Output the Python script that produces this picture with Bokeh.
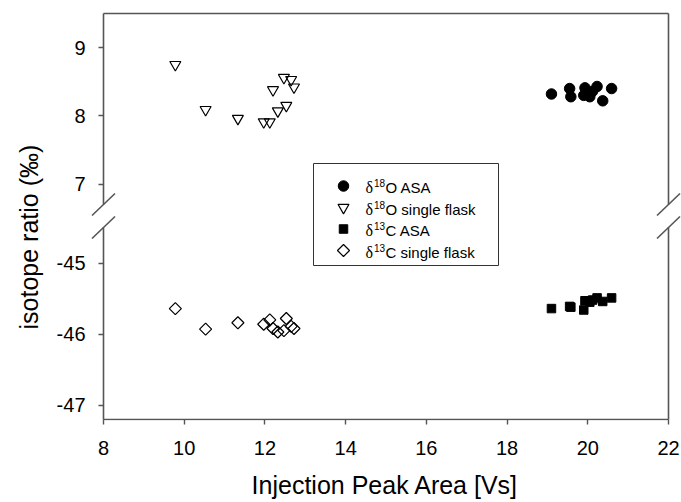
import math
from bokeh.plotting import figure
from bokeh.models import Range1d, FixedTicker, Title
from bokeh.core.properties import value
from bokeh.embed import file_html
from bokeh.resources import INLINE

# ---------------- data ----------------
flask_x = [9.78, 10.53, 11.33, 11.97, 12.12, 12.20, 12.32, 12.47, 12.53, 12.65, 12.72]
o18_flask = [8.75, 8.09, 7.96, 7.91, 7.91, 8.38, 8.07, 8.56, 8.15, 8.53, 8.42]
c13_flask = [-45.64, -45.93, -45.84, -45.86, -45.80, -45.92, -45.97, -45.95, -45.78, -45.89, -45.92]

asa_x = [19.10, 19.55, 19.58, 19.90, 19.93, 20.05, 20.12, 20.23, 20.37, 20.59]
o18_asa = [8.32, 8.40, 8.28, 8.30, 8.41, 8.28, 8.36, 8.43, 8.22, 8.40]
c13_asa = [-45.64, -45.61, -45.62, -45.66, -45.53, -45.55, -45.52, -45.49, -45.54, -45.49]

x_ticks = [8, 10, 12, 14, 16, 18, 20, 22]
upper_ticks = [7, 8, 9]
lower_ticks = [-47, -46, -45]

legend_sup = ["18", "18", "13", "13"]
legend_rest = ["O ASA", "O single flask", "C ASA", "C single flask"]
x_title = "Injection Peak Area [Vs]"
y_title = "isotope ratio (‰)"

# ---------------- layout plan (pixels) ----------------
W, H = 681, 502
BL, BR, BT, BB = 103, 668, 13, 419          # drawn box
BREAK_UP, BREAK_LO = 204, 227               # end of upper part / start of lower part
FL, FR, FT, FB = 88, 681, 8, 420            # plot frame (larger than the box)
XMIN, XMAX = 8, 22
UP_TOP, UP_BOT = 9.5, 6.7
LO_TOP, LO_BOT = -44.5, -47.2

x_ppu = (BR - BL) / (XMAX - XMIN)
lo_ppu = (BB - BREAK_LO) / (LO_TOP - LO_BOT)
up_ppu = (BREAK_UP - BT) / (UP_TOP - UP_BOT)


def xd(px):
    return XMIN + (px - BL) / x_ppu


def yd(py):          # pixel -> lower (default) range value
    return LO_TOP - (py - BREAK_LO) / lo_ppu


def yu(py):          # pixel -> upper range value
    return UP_TOP - (py - BT) / up_ppu


FONT = "Liberation Sans"
FRAME_COLOR = "#555555"

p = figure(width=W, height=H, output_backend="svg", toolbar_location=None,
           x_range=Range1d(xd(FL), xd(FR)), y_range=Range1d(yd(FB), yd(FT)),
           min_border_left=FL, min_border_right=W - FR,
           min_border_top=FT, min_border_bottom=H - FB)
p.extra_y_ranges = {"upper": Range1d(yu(FB), yu(FT))}
p.xgrid.visible = False
p.ygrid.visible = False
p.outline_line_color = None
p.background_fill_color = "white"
p.border_fill_color = "white"

# x axis
xa = p.xaxis[0]
xa.ticker = FixedTicker(ticks=x_ticks)
xa.axis_line_color = None
xa.major_tick_line_color = FRAME_COLOR
xa.major_tick_line_width = 1.4
xa.major_tick_in = FB - BB
xa.major_tick_out = 4
xa.minor_tick_line_color = None
xa.major_label_text_font = FONT
xa.major_label_text_font_size = "20px"
xa.major_label_text_color = "black"
xa.major_label_standoff = 16
xa.axis_label = x_title
xa.axis_label_text_font = FONT
xa.axis_label_text_font_size = "25px"
xa.axis_label_text_font_style = "normal"
xa.axis_label_text_color = "black"
xa.axis_label_standoff = 13

# y axis: lower ticks in default range, upper ticks mapped from the upper range
mapped = [round(yd(BT + (UP_TOP - u) * up_ppu), 6) for u in upper_ticks]
ya = p.yaxis[0]
ya.ticker = FixedTicker(ticks=list(lower_ticks) + mapped)
overrides = {float(t): str(t) for t in lower_ticks}
overrides.update({m: str(u) for m, u in zip(mapped, upper_ticks)})
ya.major_label_overrides = overrides
ya.axis_line_color = None
ya.major_tick_line_color = FRAME_COLOR
ya.major_tick_line_width = 1.4
ya.major_tick_in = BL - FL
ya.major_tick_out = -(BL - FL - 5)
ya.minor_tick_line_color = None
ya.major_label_text_font = FONT
ya.major_label_text_font_size = "20px"
ya.major_label_text_color = "black"
ya.major_label_standoff = 3

# y title, placed along the left side
ytitle = Title(text=y_title, align="left", offset=FB - 329,
               vertical_align="bottom", standoff=22,
               text_font=FONT, text_font_size="25px", text_font_style="normal",
               text_color="black")
p.add_layout(ytitle, "left")

# ---------------- box with axis break ----------------
segs = [
    ((BL, BT), (BR, BT)), ((BL, BB), (BR, BB)),
    ((BL, BT), (BL, BREAK_UP)), ((BL, BREAK_LO), (BL, BB)),
    ((BR, BT), (BR, BREAK_UP)), ((BR, BREAK_LO), (BR, BB)),
]
for cx in (BL, BR):
    for cy in (BREAK_UP, BREAK_LO):
        segs.append(((cx - 11.5, cy + 11), (cx + 11.5, cy - 11)))
p.segment(x0=[xd(a[0]) for a, b in segs], y0=[yd(a[1]) for a, b in segs],
          x1=[xd(b[0]) for a, b in segs], y1=[yd(b[1]) for a, b in segs],
          line_color=FRAME_COLOR, line_width=1.6)

# ---------------- data glyphs ----------------
MK = dict(circle=dict(marker="circle", size=10.5, fill_color="black", line_color="black"),
          tri=dict(marker="inverted_triangle", size=11, fill_color=None,
                   line_color="black", line_width=1.2),
          sq=dict(marker="square", size=8.5, fill_color="black", line_color="black"),
          dia=dict(marker="square", angle=math.pi / 4, size=8.5, fill_color=None,
                   line_color="black", line_width=1.2))

p.scatter(asa_x, o18_asa, y_range_name="upper", **MK["circle"])
p.scatter(flask_x, o18_flask, y_range_name="upper", **MK["tri"])
p.scatter(asa_x, c13_asa, **MK["sq"])
p.scatter(flask_x, c13_flask, **MK["dia"])

# ---------------- legend (drawn inside the frame) ----------------
LG_L, LG_R, LG_T, LG_B = 313, 498, 163, 265
p.quad(left=[xd(LG_L)], right=[xd(LG_R)], top=[yd(LG_T)], bottom=[yd(LG_B)],
       fill_color="white", line_color="#333333", line_width=1)
rows = [185.5, 207, 228.5, 250]
for key, ry in zip(["circle", "tri", "sq", "dia"], rows):
    p.scatter([xd(343)], [yd(ry)], **MK[key])
p.text(x=[xd(365)] * 4, y=[yd(r + 1.5) for r in rows], text=["δ"] * 4,
       text_font=value("Liberation Serif"), text_font_size="16px",
       text_baseline="middle", text_align="left", text_color="black")
p.text(x=[xd(373.5)] * 4, y=[yd(r - 3) for r in rows], text=legend_sup,
       text_font=value(FONT), text_font_size="10px",
       text_baseline="middle", text_align="left", text_color="black")
p.text(x=[xd(385)] * 4, y=[yd(r + 1.5) for r in rows], text=legend_rest,
       text_font=value(FONT), text_font_size="15px",
       text_baseline="middle", text_align="left", text_color="black")

open("out.html", "w").write(file_html(p, INLINE))
